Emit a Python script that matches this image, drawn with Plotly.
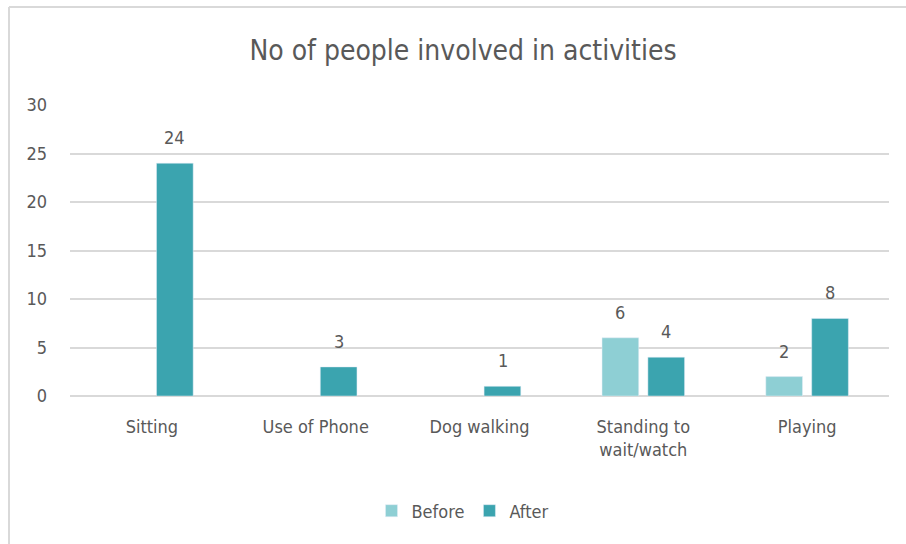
import plotly.graph_objects as go

categories = ["Sitting", "Use of Phone", "Dog walking", "Standing to<br>wait/watch", "Playing"]
before = [None, None, None, 6, 2]
after = [24, 3, 1, 4, 8]
y_ticks = [0, 5, 10, 15, 20, 25, 30]

FONT = "DejaVu Sans Condensed, Liberation Sans Narrow, Roboto, sans-serif"
TXT = "#595959"
C_BEFORE = "#8ECFD4"
C_AFTER = "#3BA4AF"

fig = go.Figure()
fig.add_trace(go.Bar(name="Before", x=categories, y=before, marker_color=C_BEFORE))
fig.add_trace(go.Bar(name="After", x=categories, y=after, marker_color=C_AFTER))

L, R, T, B = 70, 17, 105, 148
W, H = 906, 544
pw, ph = W - L - R, H - T - B

def px(x):
    return (x - L) / pw

def py(y):
    return (H - B - y) / ph

# value labels above bars
annotations = []
for vals, shift in ((before, -23), (after, 23)):
    for c, v in zip(categories, vals):
        if v is None:
            continue
        annotations.append(dict(
            x=c, y=v, xref="x", yref="y", text=str(v), showarrow=False,
            xanchor="center", yanchor="bottom", xshift=shift, yshift=13,
            font=dict(size=18, color=TXT, family=FONT),
        ))

fig.update_layout(
    width=W, height=H,
    margin=dict(l=L, r=R, t=T, b=B, pad=0),
    paper_bgcolor="white", plot_bgcolor="white",
    font=dict(family=FONT, color=TXT, size=18),
    barmode="group", bargap=0.44, bargroupgap=0.2,
    title=dict(text="No of people involved in activities", x=463 / W, xref="container",
               y=1 - 50 / H, yref="container", xanchor="center", yanchor="middle",
               font=dict(size=28, color=TXT, family=FONT)),
    legend=dict(orientation="h", x=px(463), xanchor="center", y=py(511), yanchor="middle",
                font=dict(size=18, color=TXT, family=FONT), traceorder="normal",
                itemwidth=30),
    xaxis=dict(showgrid=False, showline=False, ticks="", ticklabelstandoff=18,
               tickfont=dict(size=18, color=TXT)),
    yaxis=dict(range=[0, 30], tickvals=y_ticks, showgrid=True, gridcolor="#D9D9D9",
               gridwidth=1.5, zeroline=True, zerolinecolor="#D9D9D9", zerolinewidth=1.5,
               showline=False, ticks="", ticklabelstandoff=22,
               tickfont=dict(size=18, color=TXT)),
    annotations=annotations,
    shapes=[
        dict(type="line", xref="paper", yref="paper", x0=px(9), x1=px(907), y0=py(7), y1=py(7),
             line=dict(color="#D9D9D9", width=2)),
        dict(type="line", xref="paper", yref="paper", x0=px(9), x1=px(9), y0=py(7), y1=py(545),
             line=dict(color="#D9D9D9", width=2)),
    ],
)

fig.write_html("out.html", config={"displayModeBar": False},
               post_script="document.body.style.margin='0';")
